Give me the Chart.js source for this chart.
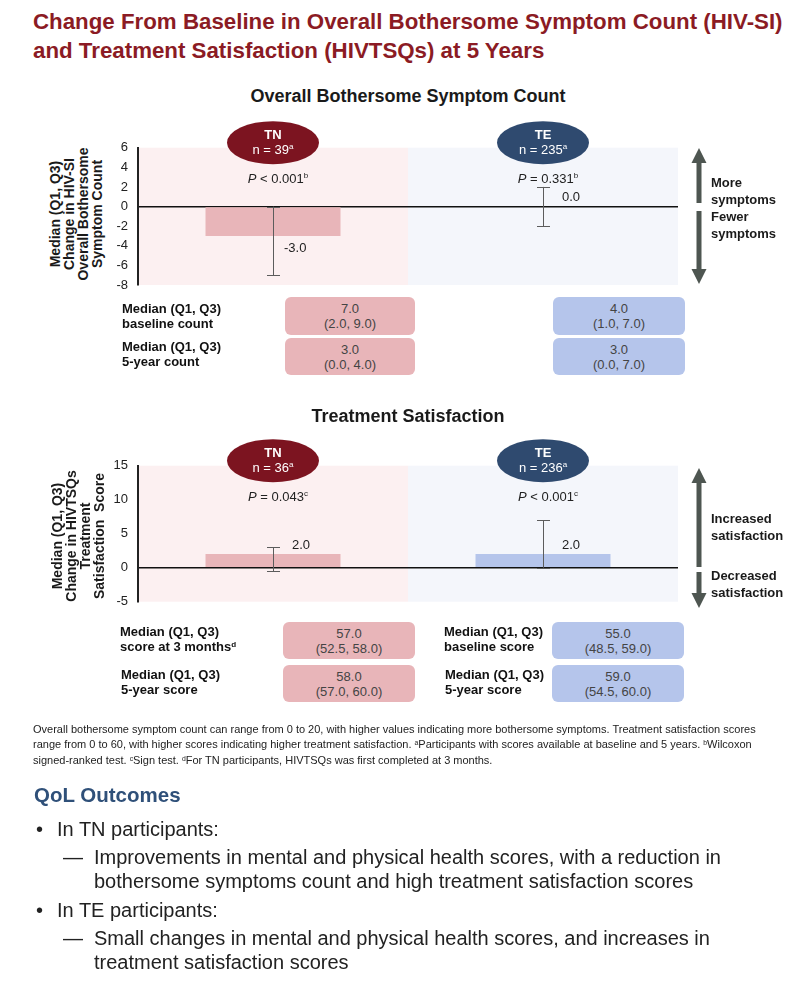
<!DOCTYPE html>
<html>
<head>
<meta charset="utf-8">
<script src="https://cdn.jsdelivr.net/npm/chart.js@4.4.1/dist/chart.umd.min.js"></script>
<style>
  body { margin: 0; width: 806px; height: 990px; position: relative; background: #fff; overflow: hidden;
         font-family: "Liberation Sans", Arial, sans-serif; color: #222; }
  .abs { position: absolute; }
  .title { left: 33px; top: 7px; font-size: 22.3px; font-weight: bold; color: #8b1b24; line-height: 29px; white-space: nowrap; }
  .sect { left: 0; width: 816px; text-align: center; font-size: 18px; font-weight: bold; color: #1a1a1a; }
  .ytitle { width: 150px; height: 56px; font-size: 14px; font-weight: bold; line-height: 14px; text-align: center;
            transform: rotate(-90deg); white-space: nowrap; color: #1a1a1a; }
  .box { border-radius: 6px; text-align: center; font-size: 13px; line-height: 15px; color: #444;
         display: flex; flex-direction: column; justify-content: center; }
  .pink { background: #e8b5b9; }
  .blue { background: #b5c5eb; }
  .lbl { font-size: 13px; font-weight: bold; line-height: 14.5px; color: #111; white-space: nowrap; }
  .side { left: 711px; font-size: 13px; font-weight: bold; line-height: 16.5px; color: #1a1a1a; }
  .foot { left: 33px; top: 722px; font-size: 11px; line-height: 15px; color: #222; white-space: nowrap; }
  sup { font-size: 62%; vertical-align: baseline; position: relative; top: -0.45em; }
  .qol { left: 34px; top: 783px; font-size: 20.5px; font-weight: bold; color: #2f5079; }
  .li { font-size: 20px; line-height: 24px; white-space: nowrap; color: #222; }
</style>
</head>
<body>

<div class="abs title">Change From Baseline in Overall Bothersome Symptom Count (HIV-SI)<br>and Treatment Satisfaction (HIVTSQs) at 5 Years</div>

<div class="abs sect" style="top:86px">Overall Bothersome Symptom Count</div>
<div class="abs ytitle" style="left:1px; top:186px">Median (Q1, Q3)<br>Change in HIV-SI<br>Overall Bothersome<br>Symptom Count</div>
<canvas id="symptomChart" class="abs" style="left:0; top:90px" width="806" height="205"></canvas>

<svg class="abs" style="left:0; top:0" width="806" height="990" pointer-events="none">
  <g fill="#4e5651">
    <polygon points="699,148 691.5,163 696.5,163 696.5,203 701.5,203 701.5,163 706.5,163"/>
    <polygon points="699,284 691.5,269 696.5,269 696.5,211 701.5,211 701.5,269 706.5,269"/>
    <polygon points="699,468 691.5,483 696.5,483 696.5,567 701.5,567 701.5,483 706.5,483"/>
    <polygon points="699,608 691.5,593 696.5,593 696.5,572 701.5,572 701.5,593 706.5,593"/>
  </g>
</svg>
<div class="abs side" style="top:175px">More<br>symptoms</div>
<div class="abs side" style="top:209px">Fewer<br>symptoms</div>

<div class="abs lbl" style="left:122px; top:302px">Median (Q1, Q3)<br>baseline count</div>
<div class="abs lbl" style="left:122px; top:340px">Median (Q1, Q3)<br>5-year count</div>
<div class="abs box pink" style="left:285px; top:297px; width:130px; height:38px">7.0<br>(2.0, 9.0)</div>
<div class="abs box pink" style="left:285px; top:338px; width:130px; height:37px">3.0<br>(0.0, 4.0)</div>
<div class="abs box blue" style="left:553px; top:297px; width:132px; height:38px">4.0<br>(1.0, 7.0)</div>
<div class="abs box blue" style="left:553px; top:338px; width:132px; height:37px">3.0<br>(0.0, 7.0)</div>

<div class="abs sect" style="top:406px">Treatment Satisfaction</div>
<div class="abs ytitle" style="left:2.5px; top:508px">Median (Q1, Q3)<br>Change in HIVTSQs<br>Treatment<br>Satisfaction&nbsp; Score</div>
<canvas id="satisfactionChart" class="abs" style="left:0; top:410px" width="806" height="205"></canvas>
<div class="abs side" style="top:511px">Increased<br>satisfaction</div>
<div class="abs side" style="top:568px">Decreased<br>satisfaction</div>

<div class="abs lbl" style="left:120px; top:625px">Median (Q1, Q3)<br>score at 3 months<sup>d</sup></div>
<div class="abs lbl" style="left:121px; top:668px">Median (Q1, Q3)<br>5-year score</div>
<div class="abs lbl" style="left:444px; top:625px">Median (Q1, Q3)<br>baseline score</div>
<div class="abs lbl" style="left:445px; top:668px">Median (Q1, Q3)<br>5-year score</div>
<div class="abs box pink" style="left:283px; top:622px; width:132px; height:37px">57.0<br>(52.5, 58.0)</div>
<div class="abs box pink" style="left:283px; top:665px; width:132px; height:37px">58.0<br>(57.0, 60.0)</div>
<div class="abs box blue" style="left:552px; top:622px; width:132px; height:37px">55.0<br>(48.5, 59.0)</div>
<div class="abs box blue" style="left:552px; top:665px; width:132px; height:37px">59.0<br>(54.5, 60.0)</div>

<div class="abs foot">Overall bothersome symptom count can range from 0 to 20, with higher values indicating more bothersome symptoms. Treatment satisfaction scores<br>range from 0 to 60, with higher scores indicating higher treatment satisfaction. <sup>a</sup>Participants with scores available at baseline and 5 years. <sup>b</sup>Wilcoxon<br>signed-ranked test. <sup>c</sup>Sign test. <sup>d</sup>For TN participants, HIVTSQs was first completed at 3 months.</div>

<div class="abs qol">QoL Outcomes</div>
<div class="abs li" style="left:36px; top:817px">•</div>
<div class="abs li" style="left:57px; top:817px">In TN participants:</div>
<div class="abs li" style="left:63px; top:845px">—</div>
<div class="abs li" style="left:94px; top:845px">Improvements in mental and physical health scores, with a reduction in<br>bothersome symptoms count and high treatment satisfaction scores</div>
<div class="abs li" style="left:36px; top:898px">•</div>
<div class="abs li" style="left:57px; top:898px">In TE participants:</div>
<div class="abs li" style="left:63px; top:926px">—</div>
<div class="abs li" style="left:94px; top:926px">Small changes in mental and physical health scores, and increases in<br>treatment satisfaction scores</div>

<script>
// groups
const groups = ['TN', 'TE'];

// overall bothersome symptom count: median change with Q1, Q3
const symptomMedian = [-3.0, 0.0];
const symptomQ1 = [-7, -2];
const symptomQ3 = [0, 2];
const symptomN = [39, 235];
const symptomP = ['< 0.001', '= 0.331'];
const symptomPNote = ['b', 'b'];
const symptomTicks = [-8, -6, -4, -2, 0, 2, 4, 6];

// treatment satisfaction: median change with Q1, Q3
const satisfactionMedian = [2.0, 2.0];
const satisfactionQ1 = [-0.5, 0];
const satisfactionQ3 = [3, 7];
const satisfactionN = [36, 236];
const satisfactionP = ['= 0.043', '< 0.001'];
const satisfactionPNote = ['c', 'c'];
const satisfactionTicks = [-5, 0, 5, 10, 15];

const FONT = '"Liberation Sans", Arial, sans-serif';
const shadeColors = ['#fcf0f1', '#f4f6fb'];
const barColors = ['#e8b5b9', '#b5c5eb'];
const ovalColors = ['#7c1420', '#2f4a6f'];

function drawRich(ctx, segs, cx, cy) {
    let total = 0;
    segs.forEach(s => { ctx.font = s.f; s.w = ctx.measureText(s.t).width; total += s.w; });
    let x = cx - total / 2;
    ctx.textAlign = 'left';
    ctx.textBaseline = 'middle';
    segs.forEach(s => {
        ctx.font = s.f;
        ctx.fillText(s.t, x, cy + (s.dy || 0));
        x += s.w;
    });
}

const decor = {
    id: 'decor',
    beforeDraw(chart, args, o) {
        const { ctx, chartArea: a } = chart;
        const cw = a.width / groups.length;
        ctx.save();
        groups.forEach((g, i) => {
            ctx.fillStyle = shadeColors[i];
            ctx.fillRect(a.left + i * cw, a.top, cw, a.bottom - a.top);
        });
        ctx.restore();
    },
    afterDatasetsDraw(chart, args, o) {
        const { ctx, chartArea: a, scales: { x, y } } = chart;
        ctx.save();
        groups.forEach((g, i) => {
            const cx = x.getPixelForValue(i);

            // whiskers
            const yLo = y.getPixelForValue(o.q1[i]);
            const yHi = y.getPixelForValue(o.q3[i]);
            ctx.strokeStyle = '#5c5c5c';
            ctx.lineWidth = 1;
            ctx.beginPath();
            ctx.moveTo(cx + 0.5, yLo); ctx.lineTo(cx + 0.5, yHi);
            ctx.moveTo(cx - 6, Math.round(yLo) + 0.5); ctx.lineTo(cx + 7, Math.round(yLo) + 0.5);
            ctx.moveTo(cx - 6, Math.round(yHi) + 0.5); ctx.lineTo(cx + 7, Math.round(yHi) + 0.5);
            ctx.stroke();

            // median label
            const v = o.median[i];
            const yv = y.getPixelForValue(v);
            ctx.fillStyle = '#222';
            ctx.font = '13px ' + FONT;
            ctx.textAlign = 'left';
            ctx.textBaseline = 'middle';
            if (v < 0) ctx.fillText(v.toFixed(1), cx + 11, yv + 12);
            else ctx.fillText(v.toFixed(1), cx + 19, yv - 9);

            // group oval
            const oy = a.top - 5;
            ctx.fillStyle = ovalColors[i];
            ctx.beginPath();
            ctx.ellipse(cx, oy, 46, 21.5, 0, 0, Math.PI * 2);
            ctx.fill();
            ctx.fillStyle = '#fff';
            drawRich(ctx, [{ t: g, f: 'bold 13px ' + FONT }], cx, oy - 7);
            drawRich(ctx, [
                { t: 'n = ' + o.n[i], f: '13px ' + FONT },
                { t: 'a', f: '8px ' + FONT, dy: -4 }
            ], cx, oy + 8);

            // p value
            ctx.fillStyle = '#222';
            drawRich(ctx, [
                { t: 'P', f: 'italic 13px ' + FONT },
                { t: ' ' + o.p[i], f: '13px ' + FONT },
                { t: o.note[i], f: '8px ' + FONT, dy: -4 }
            ], cx + 5, a.top + 32);
        });
        ctx.restore();
    }
};

function makeChart(id, median, q1, q3, n, p, note, ticks, pad) {
    return new Chart(document.getElementById(id), {
        type: 'bar',
        data: {
            labels: groups,
            datasets: [{
                data: median,
                backgroundColor: barColors,
                borderWidth: 0,
                barPercentage: 0.5,
                categoryPercentage: 1
            }]
        },
        options: {
            responsive: false,
            animation: false,
            events: [],
            layout: { padding: pad },
            plugins: {
                legend: { display: false },
                tooltip: { enabled: false },
                decor: { median, q1, q3, n, p, note }
            },
            scales: {
                x: { display: false },
                y: {
                    min: ticks[0],
                    max: ticks[ticks.length - 1],
                    afterBuildTicks: s => { s.ticks = ticks.map(v => ({ value: v })); },
                    afterFit: s => { s.width = 40; s.paddingTop = 0; s.paddingBottom = 0; },
                    ticks: { color: '#222', padding: 10, font: { size: 13, family: FONT } },
                    grid: {
                        drawTicks: false,
                        color: c => (c.tick && c.tick.value === 0) ? '#111' : 'rgba(0,0,0,0)',
                        lineWidth: 1.5
                    },
                    border: { display: true, color: '#222', width: 2 }
                }
            }
        },
        plugins: [decor]
    });
}

makeChart('symptomChart', symptomMedian, symptomQ1, symptomQ3, symptomN, symptomP, symptomPNote,
    symptomTicks, { left: 98, right: 128, top: 57.7, bottom: 10 });
makeChart('satisfactionChart', satisfactionMedian, satisfactionQ1, satisfactionQ3, satisfactionN, satisfactionP,
    satisfactionPNote, satisfactionTicks, { left: 98, right: 128, top: 55.7, bottom: 13.3 });
</script>
</body>
</html>
